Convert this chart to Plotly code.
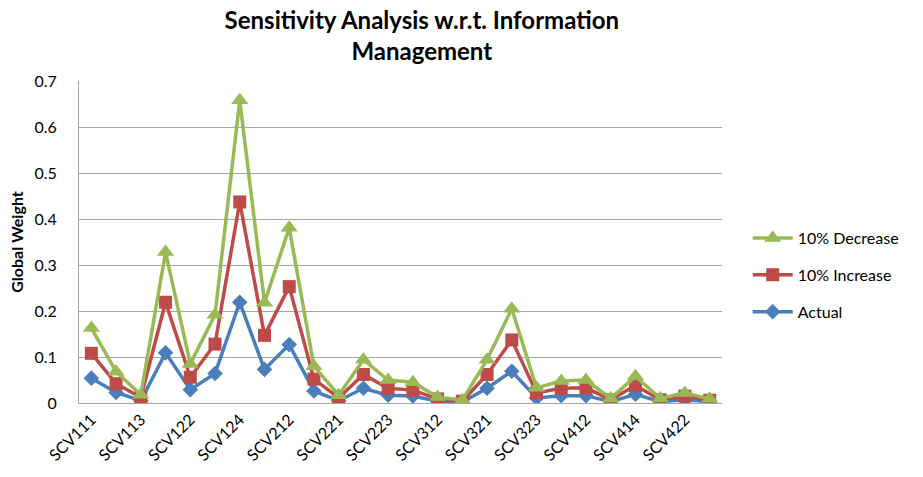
import plotly.graph_objects as go

categories = [
    "SCV111", "SCV112", "SCV113", "SCV121", "SCV122", "SCV123", "SCV124",
    "SCV211", "SCV212", "SCV213", "SCV221", "SCV222", "SCV223",
    "SCV311", "SCV312", "SCV313", "SCV321", "SCV322", "SCV323",
    "SCV411", "SCV412", "SCV413", "SCV414", "SCV421", "SCV422", "SCV423",
]

actual = [0.054, 0.023, 0.005, 0.109, 0.029, 0.064, 0.219, 0.073, 0.127, 0.026,
          0.005, 0.032, 0.017, 0.015, 0.004, 0.002, 0.032, 0.069, 0.011, 0.016,
          0.016, 0.003, 0.019, 0.003, 0.007, 0.003]
increase = [0.108, 0.042, 0.012, 0.219, 0.056, 0.128, 0.437, 0.147, 0.253, 0.052,
            0.011, 0.062, 0.032, 0.028, 0.009, 0.004, 0.062, 0.137, 0.022, 0.032,
            0.033, 0.007, 0.038, 0.007, 0.015, 0.006]
decrease = [0.163, 0.068, 0.018, 0.328, 0.085, 0.192, 0.658, 0.218, 0.381, 0.080,
            0.017, 0.094, 0.050, 0.045, 0.013, 0.006, 0.094, 0.205, 0.033, 0.048,
            0.050, 0.010, 0.058, 0.010, 0.022, 0.009]

shown_ticks = categories[::2]
y_ticks = [0, 0.1, 0.2, 0.3, 0.4, 0.5, 0.6, 0.7]
y_labels = ["0", "0.1", "0.2", "0.3", "0.4", "0.5", "0.6", "0.7"]

font = "Lato, 'Open Sans', sans-serif"

fig = go.Figure()
fig.add_trace(go.Scatter(
    x=categories, y=actual, name="Actual", mode="lines+markers",
    legendgroup="a", legendrank=3,
    line=dict(color="#4a7ebb", width=3.5),
    marker=dict(symbol="diamond", size=12, color="#4a7ebb"),
))
fig.add_trace(go.Scatter(
    x=categories, y=increase, name="10% Increase", mode="lines+markers",
    legendgroup="b", legendrank=2,
    line=dict(color="#be4b48", width=3.5),
    marker=dict(symbol="square", size=13, color="#be4b48"),
))
fig.add_trace(go.Scatter(
    x=categories, y=decrease, name="10% Decrease", mode="lines+markers",
    legendgroup="c", legendrank=1,
    line=dict(color="#98b954", width=3.5),
    marker=dict(symbol="triangle-up", size=15, color="#98b954"),
))

fig.update_layout(
    width=923, height=477,
    margin=dict(l=79, r=201, t=81, b=74),
    paper_bgcolor="white", plot_bgcolor="white",
    font=dict(family=font, size=16, color="black"),
    title=dict(
        text="<b>Sensitivity Analysis w.r.t. Information<br>Management</b>",
        x=0.457, xanchor="center", xref="container",
        y=0.94, yanchor="middle", yref="container",
        font=dict(size=24),
    ),
    legend=dict(
        x=1.04, xanchor="left", y=0.397, yanchor="middle",
        traceorder="grouped", font=dict(size=16),
        tracegroupgap=13, itemwidth=40,
    ),
    xaxis=dict(
        type="category", tickmode="array", tickvals=shown_ticks, ticktext=shown_ticks,
        tickangle=-45, showgrid=False, showline=True, linecolor="#a6a6a6",
        linewidth=1, tickfont=dict(size=16), range=[-0.5, 25.5], automargin=False,
    ),
    yaxis=dict(
        title=dict(text="<b>Global Weight</b>", font=dict(size=16), standoff=6),
        range=[0, 0.7], tickvals=y_ticks, ticktext=y_labels,
        showgrid=True, gridcolor="#a6a6a6", gridwidth=1,
        showline=True, linecolor="#a6a6a6", linewidth=1,
        zeroline=False, ticklabelstandoff=18, tickfont=dict(size=16),
        automargin=False,
    ),
)

fig.write_html("out.html", config={"displayModeBar": False},
               post_script="document.body.style.margin='0';")
